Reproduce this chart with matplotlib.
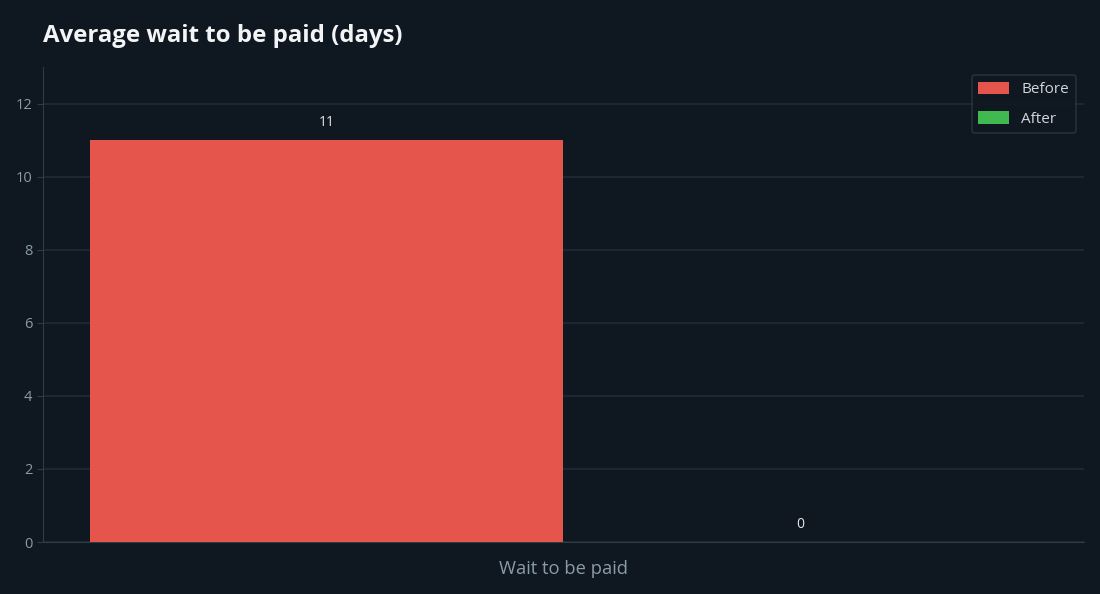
import matplotlib
matplotlib.use("Agg")
import matplotlib.pyplot as plt
import numpy as np

# Data
categories = ["Wait to be paid"]
series_names = ["Before", "After"]
before = [11]
after = [0]
colors = ["#e5554b", "#3fb950"]

bg = "#0f1720"
plt.rcParams["font.family"] = ["Open Sans", "DejaVu Sans"]

fig = plt.figure(figsize=(11, 5.94), dpi=100, facecolor=bg)
ax = fig.add_axes([0.039, 0.0875, 0.9465, 0.7995], facecolor=bg)

x = np.arange(len(categories))
w = 0.4
for i, (name, vals) in enumerate(zip(series_names, [before, after])):
    pos = x + (i - 0.5) * w
    ax.bar(pos, vals, width=w, color=colors[i], label=name, zorder=3)
    for p, v in zip(pos, vals):
        ax.text(p, v + 0.27, f"{v:g}", ha="center", va="bottom",
                color="#e6e6e6", fontsize=10, zorder=4)

ax.set_xlim(-0.44, 0.44)
ax.set_ylim(0, 13)
ax.set_yticks(range(0, 13, 2))
ax.set_xticks(x)
ax.set_xticklabels(categories, fontsize=13.2, color="#8a9ba8")
ax.tick_params(axis="x", length=0, pad=13)
ax.tick_params(axis="y", colors="#8a9ba8", labelsize=10.5, length=4, color="#2f3b45")
ax.grid(axis="y", color="#1c2831", linewidth=1.5, zorder=0)
for s in ["top", "right"]:
    ax.spines[s].set_visible(False)
for s in ["left", "bottom"]:
    ax.spines[s].set_color("#2f3b45")

leg = ax.legend(loc="upper right", bbox_to_anchor=(0.9995, 1.0), fontsize=11,
                frameon=True, facecolor=bg, edgecolor="#2a3640",
                labelcolor="#d0d6dc", handlelength=2.0, handleheight=0.9,
                borderpad=0.45, labelspacing=0.9, fancybox=True)
leg.get_frame().set_linewidth(1.2)

fig.text(0.039, 0.94, "Average wait to be paid (days)", fontsize=17.3,
         fontweight="bold", color="#f2f4f6", ha="left", va="center")

fig.savefig("out.png", dpi=100, facecolor=bg)
